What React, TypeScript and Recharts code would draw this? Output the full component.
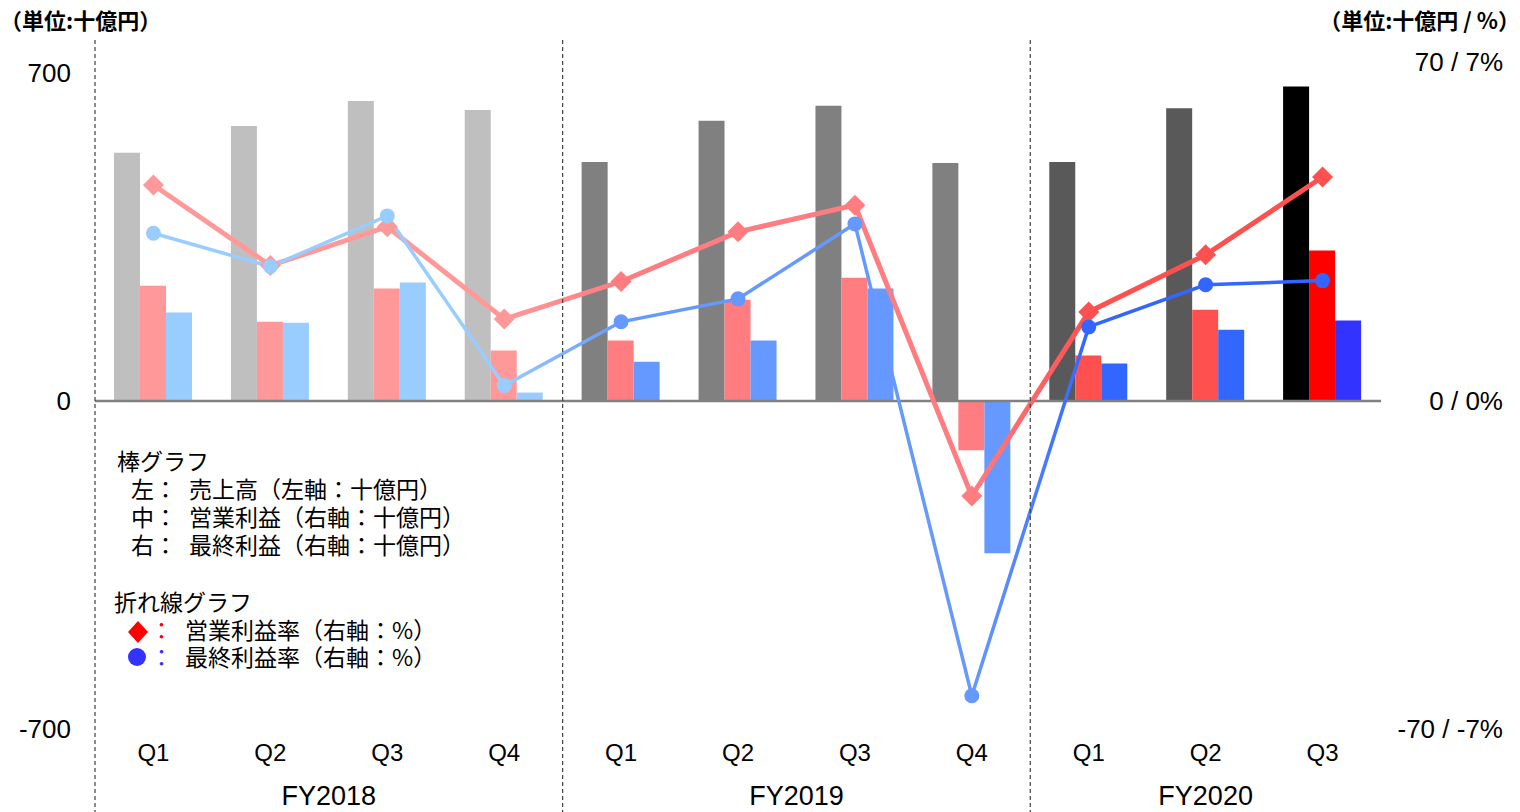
import React from "react";
import {
  ComposedChart,
  Bar,
  Line,
  XAxis,
  YAxis,
  ReferenceLine,
  Cell,
} from "recharts";

// 四半期（FY2018 Q1 〜 FY2020 Q3）
const quarters = ["Q1", "Q2", "Q3", "Q4", "Q1", "Q2", "Q3", "Q4", "Q1", "Q2", "Q3"];
const fiscalYears = ["FY2018", "FY2019", "FY2020"];
const quartersPerYear = [4, 4, 3];

// 売上高（左軸：十億円）
const sales = [530, 587, 640, 621, 510, 598, 630, 508, 510, 625, 671];
// 営業利益・最終利益（右軸：十億円）
const operatingProfit = [24.6, 16.9, 24.0, 10.8, 12.9, 21.6, 26.3, -10.5, 9.7, 19.5, 32.1];
const netProfit = [18.9, 16.7, 25.3, 1.8, 8.4, 12.9, 24.0, -32.5, 8.0, 15.2, 17.2];
// 営業利益率・最終利益率（右軸：%）
const operatingMargin = [4.61, 2.89, 3.72, 1.75, 2.55, 3.61, 4.18, -2.03, 1.9, 3.12, 4.78];
const netMargin = [3.58, 2.87, 3.95, 0.33, 1.69, 2.18, 3.78, -6.29, 1.58, 2.48, 2.57];

const leftTicks = [-700, 0, 700];
const rightTicks = [-70, 0, 70];
const marginTicks = [-7, 0, 7];

// 年度ごとの色（最新四半期は別色）
const salesColors = ["#bfbfbf", "#808080", "#595959"];
const opColors = ["#ff9999", "#ff7c80", "#ff5050"];
const netColors = ["#99ccff", "#6699ff", "#3366ff"];
const latestColors = { sales: "#000000", op: "#ff0000", net: "#3333ff" };

const FONT = '"Liberation Sans", Arial, sans-serif';
const JP = '"Noto Sans CJK JP", "Noto Sans", sans-serif';

const yearStart: number[] = [];
quartersPerYear.reduce((acc, n) => {
  yearStart.push(acc);
  return acc + n;
}, 0);
const yearOf = (i: number) => {
  let y = 0;
  yearStart.forEach((s, k) => {
    if (i >= s) y = k;
  });
  return y;
};
const last = quarters.length - 1;

const data = quarters.map((q, i) => ({
  quarter: q,
  sales: sales[i],
  op: operatingProfit[i],
  net: netProfit[i],
  opMargin: operatingMargin[i],
  netMargin: netMargin[i],
}));

const fill = (colors: string[], latest: string) => (i: number) =>
  i === last ? latest : colors[yearOf(i)];
const salesFill = fill(salesColors, latestColors.sales);
const opFill = fill(opColors, latestColors.op);
const netFill = fill(netColors, latestColors.net);

const yearBounds = yearStart.concat([quarters.length]);

const gradientStops = (colors: string[]) =>
  colors.flatMap((c, k) => {
    const s = yearBounds[k] / last;
    const e = (yearBounds[k + 1] - 1) / last;
    return [
      <stop key={`${k}a`} offset={s} stopColor={c} />,
      <stop key={`${k}b`} offset={e} stopColor={c} />,
    ];
  });

// 四半期ラベル + 年度ラベル + 年度区切り線
const QuarterTick = (props: any) => {
  const { x, y, payload, index, width, visibleTicksCount } = props;
  const i = payload?.index ?? index;
  const band = (Number(width) || 1286) / (visibleTicksCount || quarters.length);
  const k = yearStart.indexOf(i);
  return (
    <g>
      {k >= 0 && (
        <line
          x1={x - band / 2}
          x2={x - band / 2}
          y1={40}
          y2={812}
          stroke="#404040"
          strokeWidth={1.2}
          strokeDasharray="4 3"
        />
      )}
      {k >= 0 && (
        <text
          x={x + ((quartersPerYear[k] - 1) * band) / 2}
          y={y}
          dy={74}
          textAnchor="middle"
          fontSize={27}
          fill="#000"
          fontFamily={FONT}
        >
          {fiscalYears[k]}
        </text>
      )}
      <text x={x} y={y} dy={30} textAnchor="middle" fontSize={24} fill="#000" fontFamily={FONT}>
        {payload.value}
      </text>
    </g>
  );
};

const LeftTick = (props: any) => {
  const { x, y, payload } = props;
  return (
    <text x={x - 22} y={y} dy={9} textAnchor="end" fontSize={26} fill="#000" fontFamily={FONT}>
      {payload.value}
    </text>
  );
};

const RightTick = (props: any) => {
  const { x, y, payload } = props;
  const k = rightTicks.indexOf(payload.value);
  const lift = payload.value === rightTicks[rightTicks.length - 1] ? -11 : 0;
  return (
    <text x={x + 60} y={y + lift} dy={9} textAnchor="end" fontSize={26} fill="#000" fontFamily={FONT}>
      {`${payload.value} / ${marginTicks[k]}%`}
    </text>
  );
};

const renderDiamond = (props: any) => {
  const { cx, cy, index } = props;
  if (cx == null || cy == null) return <g key={`d${index}`} />;
  const r = 10.5;
  return (
    <path
      key={`d${index}`}
      d={`M${cx},${cy - r}L${cx + r},${cy}L${cx},${cy + r}L${cx - r},${cy}Z`}
      fill={opColors[yearOf(index)]}
    />
  );
};

const renderCircle = (props: any) => {
  const { cx, cy, index } = props;
  if (cx == null || cy == null) return <g key={`c${index}`} />;
  return <circle key={`c${index}`} cx={cx} cy={cy} r={7.5} fill={netColors[yearOf(index)]} />;
};

const txt = (left: number, cy: number, text: string, color = "#000") => (
  <div
    style={{
      position: "absolute",
      left,
      top: cy - 13,
      height: 26,
      lineHeight: "26px",
      fontSize: 23,
      fontFamily: JP,
      color,
      whiteSpace: "pre",
    }}
  >
    {text}
  </div>
);

export default function App() {
  return (
    <div
      style={{
        position: "absolute",
        left: 0,
        top: 0,
        width: 1520,
        height: 812,
        background: "#fff",
        overflow: "hidden",
      }}
    >
      <ComposedChart
        width={1520}
        height={812}
        data={data}
        margin={{ top: 73, right: 0, bottom: 0, left: 0 }}
        barGap={0}
      >
        <defs>
          <linearGradient id="opGrad" x1="0" y1="0" x2="1" y2="0">
            {gradientStops(opColors)}
          </linearGradient>
          <linearGradient id="netGrad" x1="0" y1="0" x2="1" y2="0">
            {gradientStops(netColors)}
          </linearGradient>
        </defs>
        <XAxis
          dataKey="quarter"
          height={83}
          axisLine={false}
          tickLine={false}
          tickSize={0}
          tick={<QuarterTick />}
          interval={0}
        />
        <YAxis
          yAxisId="left"
          domain={[leftTicks[0], leftTicks[2]]}
          ticks={leftTicks}
          width={95}
          axisLine={false}
          tickLine={false}
          tickSize={0}
          tick={<LeftTick />}
        />
        <YAxis
          yAxisId="profit"
          orientation="right"
          domain={[rightTicks[0], rightTicks[2]]}
          ticks={rightTicks}
          width={139}
          axisLine={false}
          tickLine={false}
          tickSize={0}
          tick={<RightTick />}
        />
        <YAxis yAxisId="margin" orientation="right" domain={[marginTicks[0], marginTicks[2]]} hide />

        <Bar yAxisId="left" dataKey="sales" barSize={26} isAnimationActive={false}>
          {data.map((_, i) => (
            <Cell key={i} fill={salesFill(i)} />
          ))}
        </Bar>
        <Bar yAxisId="profit" dataKey="op" barSize={26} isAnimationActive={false}>
          {data.map((_, i) => (
            <Cell key={i} fill={opFill(i)} />
          ))}
        </Bar>
        <Bar yAxisId="profit" dataKey="net" barSize={26} isAnimationActive={false}>
          {data.map((_, i) => (
            <Cell key={i} fill={netFill(i)} />
          ))}
        </Bar>

        <ReferenceLine yAxisId="left" y={0} stroke="#808080" strokeWidth={2.5} />

        <Line
          yAxisId="margin"
          dataKey="opMargin"
          stroke="url(#opGrad)"
          strokeWidth={5}
          dot={renderDiamond}
          activeDot={false}
          isAnimationActive={false}
        />
        <Line
          yAxisId="margin"
          dataKey="netMargin"
          stroke="url(#netGrad)"
          strokeWidth={3.5}
          dot={renderCircle}
          activeDot={false}
          isAnimationActive={false}
        />
      </ComposedChart>

      <div
        style={{
          position: "absolute",
          left: 0,
          top: 5,
          fontSize: 22,
          fontWeight: 700,
          fontFamily: JP,
          lineHeight: "28px",
        }}
      >
        （単位:十億円）
      </div>
      <div
        style={{
          position: "absolute",
          right: 0,
          top: 5,
          fontSize: 22,
          fontWeight: 700,
          fontFamily: JP,
          lineHeight: "28px",
        }}
      >
        （単位:十億円 / %）
      </div>

      {txt(117, 460, "棒グラフ")}
      {txt(131, 488, "左：")}
      {txt(189, 488, "売上高（左軸：十億円）")}
      {txt(131, 516, "中：")}
      {txt(189, 516, "営業利益（右軸：十億円）")}
      {txt(131, 544, "右：")}
      {txt(189, 544, "最終利益（右軸：十億円）")}
      {txt(114, 601, "折れ線グラフ")}
      <svg
        width={40}
        height={60}
        style={{ position: "absolute", left: 118, top: 615 }}
      >
        <path d="M20,6L30,17L20,28L10,17Z" fill="#ff0000" />
        <circle cx={19} cy={42} r={9} fill="#3333ff" />
      </svg>
      {txt(150, 629, "：", "#ff0000")}
      {txt(185, 629, "営業利益率（右軸：%）")}
      {txt(150, 656, "：", "#3333ff")}
      {txt(185, 656, "最終利益率（右軸：%）")}
    </div>
  );
}
